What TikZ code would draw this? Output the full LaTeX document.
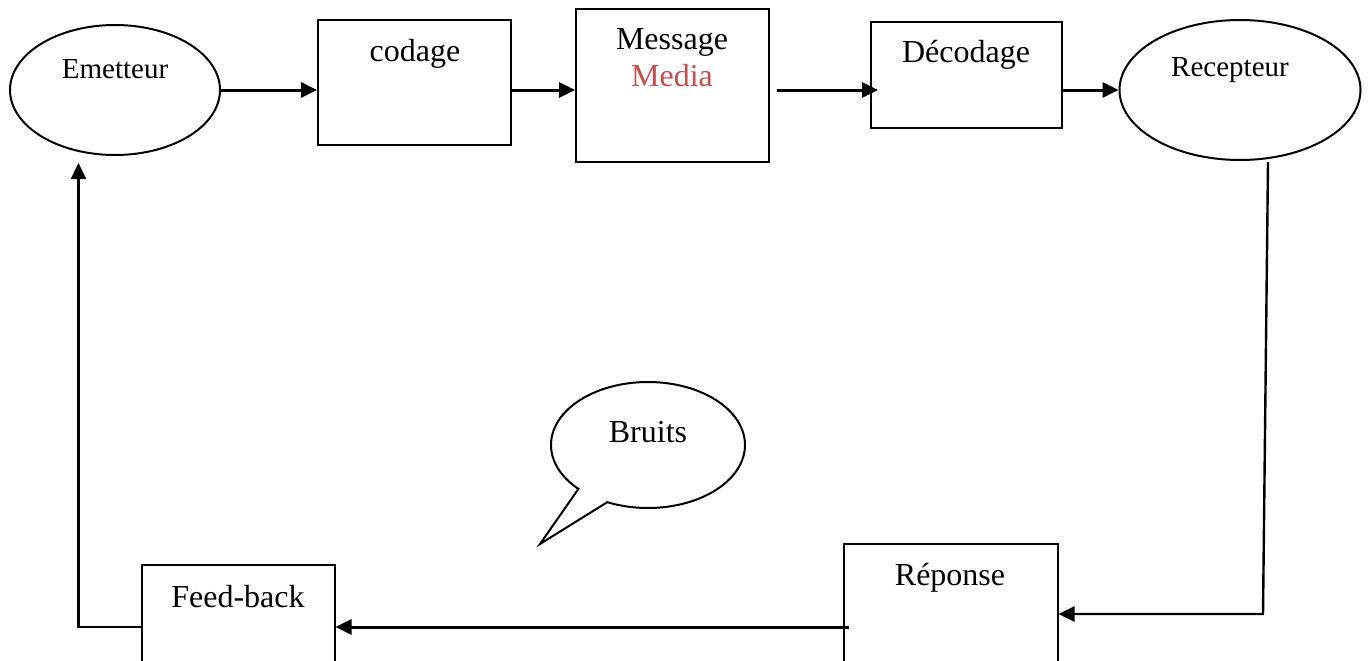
\documentclass[tikz,border=0pt]{standalone}
\usepackage{fontspec}
\setmainfont{Liberation Serif}
\usetikzlibrary{arrows.meta,shapes.geometric,shapes.callouts}
\definecolor{mediared}{HTML}{C0504D}
\tikzset{
  shapeline/.style={draw=black,line width=2pt,inner sep=0pt},
  oval/.style={shapeline,ellipse},
  boxnode/.style={shapeline,rectangle},
  lbl/.style={anchor=base,inner sep=0pt,font=\fontsize{32}{38}\selectfont},
  smalllbl/.style={anchor=base,inner sep=0pt,font=\fontsize{29}{34}\selectfont},
  arr/.style={line width=3pt,-{Triangle[length=16pt,width=15pt]}},
  bentarr/.style={line width=2.4pt,-{Triangle[length=16pt,width=15pt]}}
}
\begin{document}
\begin{tikzpicture}[x=1pt,y=-1pt]
\useasboundingbox (0,0) rectangle (1368,661);
\clip (0,0) rectangle (1368,661);
% top row
\node[oval,minimum width=210pt,minimum height=130pt] (em) at (115,90) {};
\node[smalllbl] (emt) at (115,78) {Emetteur};
\node[boxnode,minimum width=193pt,minimum height=125pt] (cod) at (414.5,82.5) {};
\node[lbl] (codt) at (415,62) {codage};
\node[boxnode,minimum width=193pt,minimum height=153pt] (msg) at (672.5,85.5) {};
\node[lbl] (msgt) at (672,50) {Message};
\node[lbl,text=mediared] (medt) at (672,87) {Media};
\node[boxnode,minimum width=191pt,minimum height=106pt] (dec) at (966.5,75) {};
\node[lbl] (dect) at (966,63) {Décodage};
\node[oval,minimum width=241pt,minimum height=140pt] (rec) at (1240,90) {};
\node[smalllbl] (rect) at (1230,77) {Recepteur};
% bottom row
\node[boxnode,minimum width=214pt,minimum height=176pt] (rep) at (950.5,632) {};
\node[lbl] (rept) at (950,585) {Réponse};
\node[boxnode,minimum width=193pt,minimum height=155pt] (fb) at (238,642.5) {};
\node[lbl] (fbt) at (238,607) {Feed-back};
% callout
\node[shapeline,ellipse callout,minimum width=194pt,minimum height=126pt,
      callout pointer arc=21,callout absolute pointer={(540,544)}] (bru) at (648,445) {};
\node[lbl] (brut) at (648,442) {Bruits};
% coordinates
\coordinate (m1) at (777,90);
\coordinate (r1) at (1268,162);
\coordinate (r2) at (1263,614);
\coordinate (p1) at (849,627);
\coordinate (f1) at (78.5,627);
\coordinate (e1) at (78.5,163);
% connectors
\draw[arr] (em.east) -- (em.east -| cod.west);
\draw[arr] (cod.east |- em.east) -- (msg.west |- em.east);
\draw[arr,shorten >=-8pt] (m1) -- (m1 -| dec.west);
\draw[arr] (dec.east |- rec.west) -- (rec.west);
\draw[bentarr] (r1) -- (r2) -- (r2 -| rep.east);
\draw[arr] (p1) -- (p1 -| fb.east);
\draw[bentarr] (fb.west |- f1) -- (f1) -- (e1);
\end{tikzpicture}
\end{document}
